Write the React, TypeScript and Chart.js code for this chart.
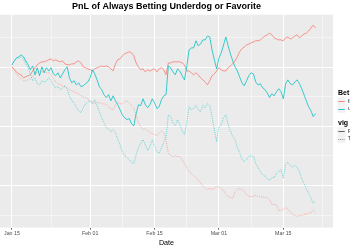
import { useEffect, useRef } from "react";
import { Chart, registerables } from "chart.js";

Chart.register(...registerables);

// Day of year 2015 (Jan 15 = 15, Feb 01 = 32, Mar 01 = 60 ...)
const dayOfYear = [15,15.5,16,16.5,17,17.5,18,18.5,19,19.5,20,20.5,21,21.5,22,22.5,23,23.5,24,24.5,25,25.5,26,26.5,27,27.5,28,28.5,29,29.5,30,30.5,31,31.5,32,32.5,33,33.5,34,34.5,35,35.5,36,36.5,37,37.5,38,38.5,39,39.5,40,40.5,41,41.5,42,42.5,43,43.5,44,44.5,45,45.5,46,46.5,47,47.5,48,48.5,49,49.5,50,50.5,51,51.5,52,52.5,53,53.5,54,54.5,55,55.5,56,56.5,57,57.5,58,58.5,59,59.5,60,60.5,61,61.5,62,62.5,63,63.5,64,64.5,65,65.5,66,66.5,67,67.5,68,68.5,69,69.5,70,70.5,71,71.5,72,72.5,73,73.5,74,74.5,75,75.5,76,76.5,77,77.5,78,78.5,79,79.5,80,80.5,81];

const underdogNoVig = [
  0.8, 2.1, 3.1, 3.5, 4.1, 3.5, 2.1, 0.8, -0.9, 0.4,
  -2.6, -0.2, -2.9, 0.1, -1.9, -0.2, -1.3, -0.2, -2.3, -2.9,
  -1.9, -3.6, -2.3, -0.9, 0.1, -3.6, -5.3, -4.6, -6.0, -5.3,
  -6.6, -6.3, -5.6, -5.0, -3.6, -0.9, -2.3, -4.3, -6.6, -7.6,
  -9.3, -10.3, -9.3, -11.4, -9.7, -11.4, -12.7, -14.4, -16.1, -17.1,
  -17.7, -17.4, -19.1, -19.8, -15.7, -12.7, -13.0, -10.7, -12.7, -13.7,
  -12.7, -10.7, -12.0, -14.0, -13.4, -11.0, -9.7, -9.3, 0.4, -0.2,
  -1.6, -2.6, -0.6, -1.3, -2.9, -4.3, 0.1, 5.8, 6.5, 6.5,
  8.9, 7.2, 7.8, 9.2, 9.2, 10.5, 10.2, 5.8, 2.5, -0.6,
  3.1, 4.8, 7.5, 10.2, 7.2, 4.5, 2.1, 0.1, -1.3, -3.3,
  -5.3, -6.3, -4.6, -2.9, -1.9, -2.3, -5.0, -6.0, -5.6, -7.0,
  -7.6, -8.7, -10.3, -9.0, -9.7, -8.3, -7.3, -8.3, -10.7, -5.6,
  -4.3, -5.6, -6.0, -5.0, -4.3, -5.6, -7.3, -9.3, -11.4, -13.4,
  -14.7, -16.7, -15.7,
];

const underdogVig = [
  0.8, 2.1, 3.1, 3.1, 3.5, 2.8, 1.1, -0.2, -2.3, -4.6,
  -3.6, -5.6, -6.0, -4.6, -5.0, -4.6, -3.6, -4.6, -6.0, -7.0,
  -6.6, -7.6, -7.0, -6.3, -7.3, -9.7, -11.4, -12.0, -13.7, -14.7,
  -15.4, -13.7, -12.4, -11.7, -11.4, -12.4, -11.0, -13.0, -15.1, -17.1,
  -18.8, -20.4, -20.8, -21.8, -21.1, -22.1, -24.5, -26.2, -28.5, -29.9,
  -30.5, -31.2, -32.2, -32.6, -29.5, -27.2, -25.8, -24.5, -26.2, -28.2,
  -26.8, -24.5, -26.5, -28.5, -29.2, -27.2, -25.5, -23.8, -16.1, -16.7,
  -18.8, -19.8, -17.7, -19.4, -21.5, -22.8, -18.8, -13.4, -14.4, -14.0,
  -13.0, -14.4, -15.1, -13.0, -13.7, -12.4, -13.0, -16.7, -21.1, -25.2,
  -20.4, -19.4, -17.1, -16.1, -19.4, -21.5, -23.5, -24.5, -27.2, -28.9,
  -31.2, -31.9, -31.2, -30.2, -29.9, -30.2, -32.6, -33.9, -35.3, -36.3,
  -36.9, -37.6, -38.3, -37.3, -37.3, -35.9, -35.3, -34.6, -37.6, -32.6,
  -32.2, -33.2, -33.9, -33.2, -33.9, -35.3, -37.6, -39.3, -41.0, -42.7,
  -44.3, -46.0, -45.4,
];

const favoriteNoVig = [
  0.1, -0.9, -1.6, -2.3, -2.6, -3.6, -3.3, -2.9, -2.6, -1.3,
  -0.2, 0.8, 1.4, 1.8, 1.8, 2.1, 2.5, 2.8, 2.1, 2.5,
  2.1, 1.8, 2.1, 1.1, 0.8, 0.8, 1.1, 1.1, 1.8, 2.1,
  1.4, 0.1, -0.2, -0.6, -0.9, -1.3, -0.6, -0.2, 0.1, 0.4,
  0.1, 0.4, 0.1, -0.6, -1.3, 1.1, 2.5, 2.8, 3.8, 4.5,
  4.8, 5.2, 4.8, 3.8, 1.4, 0.1, -0.9, -0.6, -1.6, -0.9,
  -1.3, -0.9, -0.6, -1.6, -0.6, -0.2, -0.9, -2.6, 1.4, 1.4,
  1.8, 1.8, 1.8, 1.8, 1.4, 0.8, -1.3, -1.3, -1.9, -2.6,
  -1.9, -2.6, -3.6, -4.3, -5.0, -6.0, -4.6, -2.9, -2.3, -1.3,
  -0.2, -0.9, -1.3, -1.3, -0.2, 0.4, 1.1, 2.1, 3.5, 5.2,
  6.2, 6.8, 7.5, 7.8, 8.2, 8.5, 8.9, 8.9, 9.2, 9.9,
  10.5, 10.9, 11.5, 10.9, 9.9, 9.5, 9.2, 9.2, 8.9, 9.9,
  10.2, 9.5, 9.9, 10.5, 10.9, 9.9, 10.5, 11.2, 11.5, 12.2,
  13.2, 14.2, 13.2,
];

const favoriteVig = [
  0.1, -0.9, -2.3, -3.3, -3.9, -4.6, -4.6, -4.3, -3.9, -3.3,
  -2.3, -1.6, -1.6, -1.6, -1.6, -1.9, -1.9, -2.6, -3.9, -5.0,
  -5.6, -6.0, -6.3, -6.6, -7.0, -7.6, -8.0, -8.3, -8.7, -9.0,
  -9.7, -10.0, -10.3, -10.7, -11.4, -11.7, -12.4, -12.0, -12.0, -12.4,
  -12.4, -12.7, -13.4, -14.0, -14.4, -12.7, -12.0, -12.4, -12.4, -11.7,
  -11.4, -12.0, -13.0, -13.7, -16.4, -18.8, -20.1, -21.1, -20.8, -21.5,
  -22.1, -22.5, -22.8, -23.1, -22.5, -21.5, -22.1, -24.5, -29.2, -29.9,
  -30.2, -29.9, -30.2, -30.2, -31.2, -32.6, -33.9, -35.3, -35.9, -36.6,
  -37.3, -38.3, -39.0, -40.3, -41.0, -41.3, -41.0, -41.3, -41.0, -40.3,
  -40.6, -41.0, -41.6, -43.0, -43.7, -44.0, -44.3, -42.3, -41.3, -41.0,
  -41.3, -42.0, -43.0, -43.7, -43.7, -43.7, -43.3, -43.7, -43.7, -44.0,
  -44.0, -44.0, -44.7, -46.4, -46.4, -46.4, -48.4, -48.4, -48.0, -47.4,
  -48.0, -48.7, -49.7, -50.1, -50.4, -50.1, -50.1, -49.7, -49.7, -49.4,
  -49.1, -48.4, -49.4,
];

const majorTickDays = [15, 32, 46, 60, 74];
const majorTickLabels = ["Jan 15", "Feb 01", "Feb 15", "Mar 01", "Mar 15"];
const minorTickDays = [23.5, 39, 53, 67, 82.5];
const yGridValues = [-50, -40, -30, -20, -10, 0, 10];
const yMajorValues = [-40, -20, 0];
const betLevels = ["favorite", "underdog"];
const vigLevels = ["FALSE", "TRUE"];

const FONT = "'Liberation Sans', Arial, Helvetica, sans-serif";
const RED_SOLID = "rgba(248,118,109,0.85)";
const RED_DOT = "rgba(248,118,109,0.6)";
const CYAN_SOLID = "rgba(0,191,196,0.85)";
const CYAN_DOT = "rgba(0,191,196,0.6)";

const toPoints = (vals: number[]) => vals.map((v, i) => ({ x: dayOfYear[i], y: v }));

const panelBg = {
  id: "panelBg",
  beforeDraw(chart: any) {
    const { ctx, chartArea: a } = chart;
    ctx.save();
    ctx.fillStyle = "#EBEBEB";
    ctx.fillRect(a.left, a.top, a.right - a.left, a.bottom - a.top);
    ctx.restore();
  },
};

const sideLegend = {
  id: "sideLegend",
  afterDraw(chart: any) {
    const { ctx } = chart;
    const x0 = 337.5;
    const keyW = 8;
    const keyH = 7.8;
    ctx.save();
    const drawGroup = (title: string, top: number, labels: string[], styles: { color: string; dash: number[] }[]) => {
      ctx.font = `bold 7px ${FONT}`;
      ctx.fillStyle = "#000";
      ctx.textBaseline = "middle";
      ctx.textAlign = "left";
      ctx.fillText(title, x0 + 0.5, top);
      labels.forEach((lab, i) => {
        const ky = top + 4.2 + i * keyH;
        ctx.fillStyle = "#F2F2F2";
        ctx.fillRect(x0, ky, keyW, keyH);
        ctx.strokeStyle = styles[i].color;
        ctx.lineWidth = 1;
        ctx.setLineDash(styles[i].dash);
        ctx.beginPath();
        ctx.moveTo(x0 + 0.8, Math.round(ky + keyH / 2) + 0.5);
        ctx.lineTo(x0 + keyW - 0.8, Math.round(ky + keyH / 2) + 0.5);
        ctx.stroke();
        ctx.setLineDash([]);
        ctx.font = `5.3px ${FONT}`;
        ctx.fillStyle = "#1a1a1a";
        ctx.fillText(lab, x0 + keyW + 2.5, ky + keyH / 2);
      });
    };
    drawGroup("Bet", 93, betLevels, [
      { color: RED_SOLID, dash: [] },
      { color: CYAN_SOLID, dash: [] },
    ]);
    drawGroup("vig", 123, vigLevels, [
      { color: "rgba(60,60,60,0.8)", dash: [] },
      { color: "rgba(60,60,60,0.6)", dash: [1, 1] },
    ]);
    ctx.restore();
  },
};

export default function App() {
  const ref = useRef<HTMLCanvasElement | null>(null);

  useEffect(() => {
    if (!ref.current) return;
    const chart = new Chart(ref.current, {
      type: "line",
      data: {
        datasets: [
          {
            label: "underdog / FALSE",
            data: toPoints(underdogNoVig),
            borderColor: CYAN_SOLID,
            borderWidth: 0.9,
            pointRadius: 0,
            tension: 0,
          },
          {
            label: "underdog / TRUE",
            data: toPoints(underdogVig),
            borderColor: CYAN_DOT,
            borderWidth: 0.9,
            borderDash: [1, 1],
            pointRadius: 0,
            tension: 0,
          },
          {
            label: "favorite / FALSE",
            data: toPoints(favoriteNoVig),
            borderColor: RED_SOLID,
            borderWidth: 0.9,
            pointRadius: 0,
            tension: 0,
          },
          {
            label: "favorite / TRUE",
            data: toPoints(favoriteVig),
            borderColor: RED_DOT,
            borderWidth: 0.9,
            borderDash: [1, 1],
            pointRadius: 0,
            tension: 0,
          },
        ],
      },
      options: {
        animation: false,
        responsive: false,
        devicePixelRatio: 1,
        layout: { padding: { left: 0, right: 17, top: 0, bottom: 0 } },
        font: { family: FONT },
        plugins: {
          legend: { display: false },
          tooltip: { enabled: false },
          title: {
            display: true,
            text: "PnL of Always Betting Underdog or Favorite",
            color: "#000",
            font: { size: 9, weight: "bold", family: FONT },
            padding: { top: 1.5, bottom: 2.4 },
          },
        },
        scales: {
          x: {
            type: "linear",
            min: 12.4,
            max: 84.8,
            afterBuildTicks: (scale: any) => {
              scale.ticks = [...majorTickDays, ...minorTickDays]
                .sort((a, b) => a - b)
                .map((v) => ({ value: v }));
            },
            ticks: {
              autoSkip: false,
              maxRotation: 0,
              minRotation: 0,
              padding: 0.8,
              color: "#4D4D4D",
              font: { size: 5.3, family: FONT },
              callback: (value: any) => {
                const i = majorTickDays.indexOf(Number(value));
                return i >= 0 ? majorTickLabels[i] : "";
              },
            },
            grid: {
              drawTicks: true,
              tickLength: 2,
              color: (c: any) => (majorTickDays.includes(c.tick?.value) ? "#FFFFFF" : "rgba(255,255,255,0.75)"),
              lineWidth: (c: any) => (majorTickDays.includes(c.tick?.value) ? 1 : 0.6),
              tickColor: (c: any) => (majorTickDays.includes(c.tick?.value) ? "#333333" : "rgba(0,0,0,0)"),
              tickWidth: 0.8,
            },
            border: { display: false },
            title: {
              display: true,
              text: "Date",
              color: "#000",
              font: { size: 7.2, family: FONT },
              padding: { top: 1.6, bottom: 2.2 },
            },
          },
          y: {
            type: "linear",
            min: -54.21,
            max: 17.71,
            afterBuildTicks: (scale: any) => {
              scale.ticks = yGridValues.map((v) => ({ value: v }));
            },
            ticks: { display: false },
            grid: {
              drawTicks: false,
              color: (c: any) => (yMajorValues.includes(c.tick?.value) ? "#FFFFFF" : "rgba(255,255,255,0.75)"),
              lineWidth: (c: any) => (yMajorValues.includes(c.tick?.value) ? 1 : 0.6),
            },
            border: { display: false },
          },
        },
      } as any,
      plugins: [panelBg, sideLegend],
    });
    return () => chart.destroy();
  }, []);

  return (
    <div style={{ position: "fixed", left: 0, top: 0, width: 350, height: 250, background: "#fff" }}>
      <canvas ref={ref} width={350} height={250} style={{ display: "block" }} />
    </div>
  );
}
